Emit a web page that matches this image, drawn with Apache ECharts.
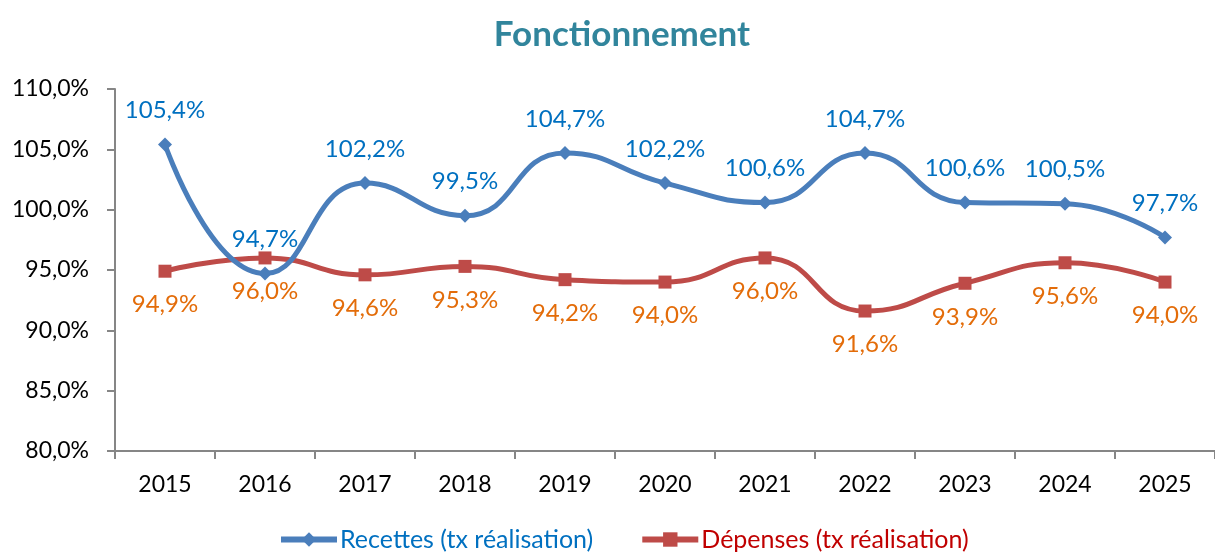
<!DOCTYPE html>
<html>
<head>
<meta charset="utf-8">
<script src="https://cdn.jsdelivr.net/npm/echarts@6/dist/echarts.min.js"></script>
<style>
  html, body { margin: 0; padding: 0; background: #fff; }
  #chart { width: 1215px; height: 554px; }
</style>
</head>
<body>
<div id="chart"></div>
<script>
// Taux de réalisation du budget de fonctionnement
const years = ['2015', '2016', '2017', '2018', '2019', '2020', '2021', '2022', '2023', '2024', '2025'];
const recettes = [105.4, 94.7, 102.2, 99.5, 104.7, 102.2, 100.6, 104.7, 100.6, 100.5, 97.7];
const depenses = [94.9, 96.0, 94.6, 95.3, 94.2, 94.0, 96.0, 91.6, 93.9, 95.6, 94.0];

const FONT = 'Lato, "Open Sans", sans-serif';
const pct = v => v.toFixed(1).replace('.', ',') + '%';

const chart = echarts.init(document.getElementById('chart'), null, { renderer: 'canvas' });
chart.setOption({
  animation: false,
  backgroundColor: '#ffffff',
  title: {
    text: 'Fonctionnement',
    left: 617,
    textAlign: 'center',
    top: 12,
    textStyle: { color: '#31859C', fontFamily: FONT, fontWeight: 'bold', fontSize: 35 }
  },
  legend: {
    top: 522,
    left: 273,
    itemWidth: 56,
    itemHeight: 18,
    itemGap: 46,
    textStyle: { fontFamily: FONT, fontSize: 25, padding: [0, 0, 0, -2] },
    data: [
      { name: 'Recettes (tx réalisation)', textStyle: { color: '#0070C0' }, lineStyle: { width: 6 } },
      { name: 'Dépenses (tx réalisation)', textStyle: { color: '#C00000' }, lineStyle: { width: 6 } }
    ]
  },
  grid: { left: 115, top: 89, width: 1104, height: 362, containLabel: false },
  xAxis: {
    type: 'category',
    data: years,
    boundaryGap: true,
    axisLine: { lineStyle: { color: '#868686', width: 2 } },
    axisTick: { show: true, length: 8, lineStyle: { color: '#868686', width: 2 } },
    axisLabel: { color: '#000', fontFamily: FONT, fontSize: 23, margin: 22 }
  },
  yAxis: {
    type: 'value',
    min: 80,
    max: 110,
    interval: 5,
    axisLine: { show: true, lineStyle: { color: '#868686', width: 2 } },
    axisTick: { show: true, length: 8, lineStyle: { color: '#868686', width: 2 } },
    splitLine: { show: false },
    axisLabel: { color: '#000', fontFamily: FONT, fontSize: 23, margin: 26, formatter: v => pct(v) }
  },
  series: [
    {
      name: 'Recettes (tx réalisation)',
      type: 'line',
      data: recettes,
      smooth: 0.5,
      symbol: 'diamond',
      symbolSize: 14,
      z: 3,
      lineStyle: { color: '#4A7EBB', width: 5 },
      itemStyle: { color: '#4A7EBB' },
      label: {
        show: true,
        position: 'top',
        distance: 15,
        color: '#0070C0',
        fontFamily: FONT,
        fontSize: 24,
        formatter: p => pct(p.value)
      }
    },
    {
      name: 'Dépenses (tx réalisation)',
      type: 'line',
      data: depenses,
      smooth: 0.5,
      symbol: 'rect',
      symbolSize: 13,
      z: 2,
      lineStyle: { color: '#BE4B48', width: 5 },
      itemStyle: { color: '#BE4B48' },
      label: {
        show: true,
        position: 'bottom',
        distance: 15,
        color: '#E36C09',
        fontFamily: FONT,
        fontSize: 24,
        formatter: p => pct(p.value)
      }
    }
  ]
});
</script>
</body>
</html>
